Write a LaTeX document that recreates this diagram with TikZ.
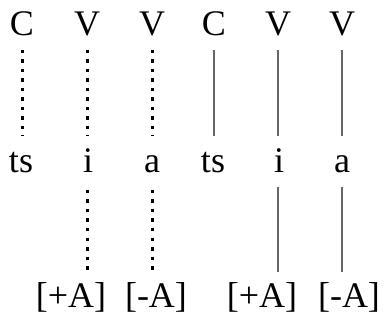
\documentclass[tikz,border=0pt]{standalone}
\usepackage{fontspec}
\setmainfont{Liberation Serif}
\usetikzlibrary{calc}
\begin{document}
\begin{tikzpicture}[x=1pt,y=1pt,
  lbl/.style={inner sep=0pt,anchor=base,font=\fontsize{36}{40}\selectfont},
  dotline/.style={line width=3pt,dash pattern=on 3.5pt off 6pt,black},
  solidline/.style={line width=1.3pt,black!60}]
\useasboundingbox (0,0) rectangle (385,-320);
% top row
\node[lbl] (c1) at (22,-36) {C};
\node[lbl] (v1) at (87,-36) {V};
\node[lbl] (v2) at (152,-36) {V};
\node[lbl] (c2) at (214,-36) {C};
\node[lbl] (v3) at (278,-36) {V};
\node[lbl] (v4) at (342,-36) {V};
% middle row
\node[lbl] (s1) at (21,-173) {ts};
\node[lbl] (i1) at (88,-173) {i};
\node[lbl] (a1) at (152,-173) {a};
\node[lbl] (s2) at (213,-173) {ts};
\node[lbl] (i2) at (279,-173) {i};
\node[lbl] (a2) at (342,-173) {a};
% bottom row
\node[lbl] (f1) at (71,-307) {[+A]};
\node[lbl] (f2) at (156,-307) {[-A]};
\node[lbl] (f3) at (262,-307) {[+A]};
\node[lbl] (f4) at (349,-307) {[-A]};
% upper connectors
\draw[dotline] ($(c1.base)+(0,-14)$) -- ($(c1.base |- s1.base)+(0,37)$);
\draw[dotline] ($(v1.base)+(0,-14)$) -- ($(v1.base |- i1.base)+(0,37)$);
\draw[dotline] ($(v2.base)+(0,-14)$) -- ($(v2.base |- a1.base)+(0,37)$);
\draw[solidline] ($(c2.base)+(0,-14)$) -- ($(c2.base |- s2.base)+(0,37)$);
\draw[solidline] ($(v3.base)+(0,-14)$) -- ($(v3.base |- i2.base)+(0,37)$);
\draw[solidline] ($(v4.base)+(0,-14)$) -- ($(v4.base |- a2.base)+(0,37)$);
% lower connectors
\draw[dotline] ($(v1.base |- i1.base)+(0,-17)$) -- ($(v1.base |- f1.base)+(0,32)$);
\draw[dotline] ($(v2.base |- a1.base)+(0,-17)$) -- ($(v2.base |- f2.base)+(0,32)$);
\draw[solidline] ($(v3.base |- i2.base)+(0,-14)$) -- ($(v3.base |- f3.base)+(0,35)$);
\draw[solidline] ($(v4.base |- a2.base)+(0,-14)$) -- ($(v4.base |- f4.base)+(0,35)$);
\end{tikzpicture}
\end{document}
